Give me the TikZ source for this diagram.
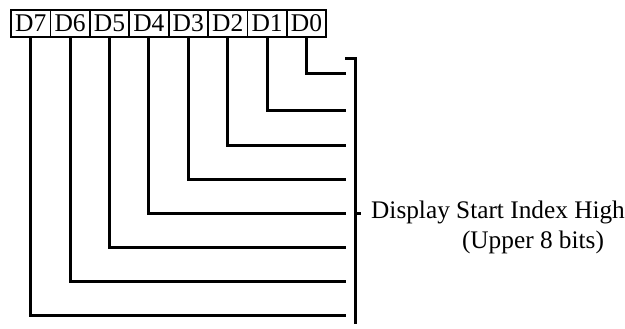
\documentclass[tikz,border=0pt]{standalone}
\usepackage{fontspec}
\setmainfont{Liberation Serif}
\begin{document}
\begin{tikzpicture}[x=1pt,y=-1pt,
  bitbox/.style={draw,line width=1.8pt,minimum width=39.4pt,minimum height=27pt,inner sep=0pt,font=\fontsize{25.5}{29}\selectfont},
  wire/.style={line width=3pt},
  lbl/.style={font=\fontsize{25.3}{30}\selectfont,inner sep=0pt}]
\useasboundingbox (0,0) rectangle (625,329);
\foreach \b [count=\i from 0] in {7,6,5,4,3,2,1,0} {
  \node[bitbox] (b\b) at (30.7+39.4*\i,23.5) {D\b};
}
\foreach \b/\y in {0/74,1/111,2/146,3/180,4/213,5/247,6/281,7/315} {
  \coordinate (e\b) at (346,\y);
  \draw[wire] (b\b.south) |- (e\b);
}
\coordinate (bt) at (345,59);
\coordinate (btr) at (355.5,59);
\coordinate (bb) at (355.5,324);
\coordinate (bm) at (355.5,213);
\coordinate (bmr) at (361,213);
\draw[wire,line cap=butt] (bt) -- (btr) -- (bb);
\draw[wire] (bm) -- (bmr);
\node[lbl,anchor=west] (t1) at (371,212) {Display Start Index High};
\node[lbl] (t2) at (533,242) {(Upper 8 bits)};
\end{tikzpicture}
\end{document}
